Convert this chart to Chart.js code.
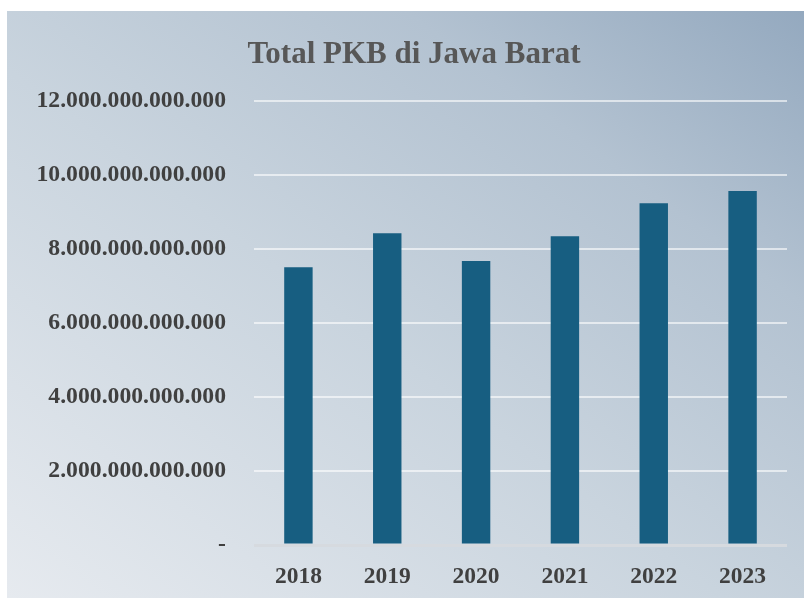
<!DOCTYPE html>
<html>
<head>
<meta charset="utf-8">
<script src="https://cdn.jsdelivr.net/npm/chart.js@4"></script>
<style>
  body { margin: 0; background: #fff; }
  #box {
    position: absolute; left: 7px; top: 11px; width: 797px; height: 587px;
    background: linear-gradient(to top right, #e6eaef 0%, #c9d4de 45%, #b3c2d1 75%, #94a9bf 100%);
  }
</style>
</head>
<body>
<div id="box"><canvas id="pkb" width="797" height="587"></canvas></div>
<script>
var years = ['2018', '2019', '2020', '2021', '2022', '2023'];
var totalPkb = [7510000000000, 8430000000000, 7680000000000, 8350000000000, 9240000000000, 9570000000000];

var barColor = '#175e81';
var labelColor = '#404040';

function dots(v) {
    if (v === 0) return '-';
    return String(v).replace(/\B(?=(\d{3})+(?!\d))/g, '.');
}

// title sits a bit right of the canvas centre in the original
var shiftTitle = {
    id: 'shiftTitle',
    afterLayout: function (chart) {
        if (chart.titleBlock) chart.titleBlock.left += 34;
    }
};

var pkbContext = document.getElementById('pkb').getContext('2d');
var pkbChart = new Chart(pkbContext, {
    type: 'bar',
    data: {
        labels: years,
        datasets: [
            {
                label: 'Total PKB',
                data: totalPkb,
                backgroundColor: barColor,
                categoryPercentage: 1,
                barPercentage: 0.32
            }]
    },
    plugins: [shiftTitle],
    options: {
        responsive: false,
        animation: false,
        layout: { padding: { left: 0, right: 17, top: 0, bottom: 0 } },
        plugins: {
            legend: { display: false },
            tooltip: { enabled: false },
            title: {
                display: true,
                text: 'Total PKB di Jawa Barat',
                color: '#575757',
                font: { family: 'Liberation Serif', size: 31, weight: 'bold' },
                padding: { top: 25, bottom: 28 }
            }
        },
        scales: {
            x: {
                grid: { display: false },
                border: { display: false },
                ticks: {
                    color: labelColor,
                    padding: 10,
                    font: { family: 'Liberation Serif', size: 23.5, weight: 'bold' }
                },
                afterFit: function (scale) { scale.height = 53; }
            },
            y: {
                min: 0,
                max: 12000000000000,
                border: { display: false },
                grid: {
                    drawTicks: false,
                    lineWidth: function (c) { return c.tick && c.tick.value === 0 ? 3 : 2; },
                    color: function (c) { return c.tick && c.tick.value === 0 ? '#d6dadf' : 'rgba(255,255,255,0.6)'; }
                },
                ticks: {
                    stepSize: 2000000000000,
                    color: labelColor,
                    padding: 28,
                    font: { family: 'Liberation Serif', size: 23.7, weight: 'bold' },
                    callback: function (v) { return dots(v); }
                },
                afterFit: function (scale) { scale.width = 247; }
            }
        }
    }
});
</script>
</body>
</html>
